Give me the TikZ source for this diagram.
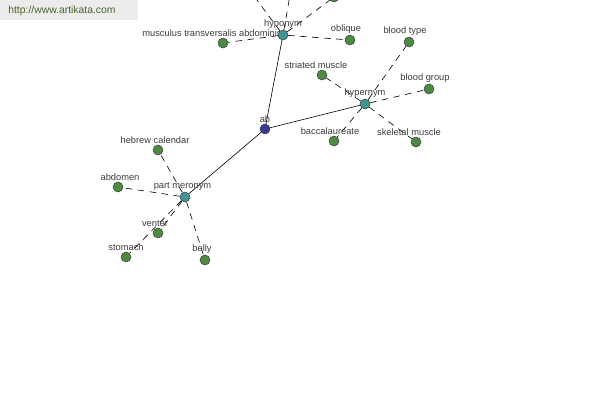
\documentclass[tikz,border=0pt]{standalone}
\usepackage{fontspec}
\setmainfont{Liberation Sans}
\usetikzlibrary{positioning}
\definecolor{leafgreen}{RGB}{78,138,66}
\definecolor{hubteal}{RGB}{62,148,150}
\definecolor{rootblue}{RGB}{58,58,150}
\definecolor{labelgray}{RGB}{60,60,60}
\definecolor{markgray}{RGB}{236,236,236}
\definecolor{markgreen}{RGB}{72,100,40}
\pgfdeclarelayer{edges}
\pgfdeclarelayer{labels}
\pgfsetlayers{edges,labels,main}
\tikzset{
  word/.style={circle,draw=black!75,fill=leafgreen,inner sep=0pt,minimum size=0.2cm,line width=0.3pt},
  hub/.style={word,fill=hubteal},
  root/.style={word,fill=rootblue},
  lbl/.style={inner sep=0pt,text=labelgray,font=\fontsize{5.3}{6}\selectfont},
  rel/.style={line width=0.35pt,black},
  syn/.style={line width=0.35pt,black,dash pattern=on 1.3mm off 1.1mm}
}
\begin{document}
\begin{tikzpicture}[x=0.02cm,y=-0.02cm]
        \useasboundingbox (0,0) rectangle (600,400);
        \clip (0,0) rectangle (600,400);
        %% Hubs
        \node[root] (all) at (265,129) {};
        \node[hub] (hypo) at (283,35) {};
        \node[hub] (hyper) at (365,104) {};
        \node[hub] (part) at (185,197) {};
        %% Words
        \node[word] (mta) at (223,43) {};
        \node[word] (obl) at (350,40) {};
        \node[word] (up1) at (236,-28) {};
        \node[word] (up2) at (293,-22) {};
        \node[word] (up3) at (334,-3) {};
        \node[word] (btype) at (409,42) {};
        \node[word] (strm) at (322,75) {};
        \node[word] (bgrp) at (429,89) {};
        \node[word] (bacc) at (334,141) {};
        \node[word] (skel) at (416,142) {};
        \node[word] (hebr) at (158,150) {};
        \node[word] (abdm) at (118,187) {};
        \node[word] (vent) at (158,233) {};
        \node[word] (stom) at (126,257) {};
        \node[word] (bell) at (205,260) {};
        %% labels
        \begin{pgfonlayer}{labels}
        \node[lbl,above=0.6pt of all] {ab};
        \node[lbl,above=0.6pt of hypo] {hyponym};
        \node[lbl,above=0.6pt of hyper] {hypernym};
        \node[lbl,above=0.6pt of part,xshift=-0.05cm] {part meronym};
        \node[lbl,above=0.6pt of mta,xshift=-0.22cm] {musculus transversalis abdominis};
        \node[lbl,above=0.6pt of obl,xshift=-0.08cm] {oblique};
        \node[lbl,above=0.6pt of btype,xshift=-0.08cm] {blood type};
        \node[lbl,above=0.6pt of strm,xshift=-0.12cm] {striated muscle};
        \node[lbl,above=0.6pt of bgrp,xshift=-0.08cm] {blood group};
        \node[lbl,above=0.6pt of bacc,xshift=-0.08cm] {baccalaureate};
        \node[lbl,above=0.6pt of skel,xshift=-0.14cm] {skeletal muscle};
        \node[lbl,above=0.6pt of hebr,xshift=-0.06cm] {hebrew calendar};
        \node[lbl,above=0.6pt of abdm,xshift=0.04cm] {abdomen};
        \node[lbl,above=0.6pt of vent,xshift=-0.06cm] {venter};
        \node[lbl,above=0.6pt of stom] {stomach};
        \node[lbl,above=0.6pt of bell,xshift=-0.06cm] {belly};
        \end{pgfonlayer}
        %% links
        \begin{pgfonlayer}{edges}
        \draw[rel] (all) -- (hypo);
        \draw[rel] (all) -- (hyper);
        \draw[rel] (all) -- (part);
        \foreach \w in {mta,obl,up1,up2,up3}
            \draw[syn] (hypo) -- (\w);
        \foreach \w in {btype,strm,bgrp,bacc,skel}
            \draw[syn] (hyper) -- (\w);
        \foreach \w in {hebr,abdm,vent,stom,bell}
            \draw[syn] (part) -- (\w);
        \end{pgfonlayer}
        %% watermark
        \node[fill=markgray,minimum width=2.76cm,minimum height=0.4cm,anchor=north west,inner sep=0pt] (mark) at (0,0) {};
        \node[anchor=west,text=markgreen,font=\fontsize{5.9}{7}\selectfont,inner sep=0pt] (url) at (8,11) {http://www.artikata.com};
    \end{tikzpicture}
\end{document}
